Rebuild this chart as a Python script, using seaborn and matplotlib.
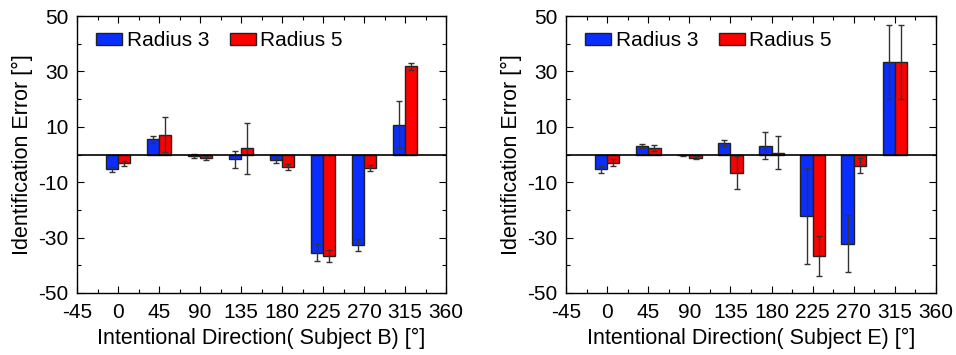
import numpy as np
import pandas as pd
import matplotlib
matplotlib.use("Agg")
import matplotlib.pyplot as plt
from matplotlib.ticker import MultipleLocator, FixedLocator
import seaborn as sns

directions = [0, 45, 90, 135, 180, 225, 270, 315]
radii = ["Radius 3", "Radius 5"]

# Subject B
b_r3 = [-5.4, 5.5, -0.6, -1.7, -1.9, -35.4, -32.7, 10.8]
b_r3_err = [0.8, 1.2, 0.8, 3.0, 1.0, 3.0, 2.1, 8.5]
b_r5 = [-3.2, 7.2, -1.2, 2.2, -4.4, -36.6, -4.8, 31.8]
b_r5_err = [0.8, 6.2, 0.7, 9.3, 1.1, 2.2, 1.0, 1.4]

# Subject E
e_r3 = [-5.4, 3.0, -0.3, 4.2, 3.1, -22.2, -32.2, 33.5]
e_r3_err = [1.2, 0.7, 0.3, 1.0, 4.9, 17.4, 10.2, 13.3]
e_r5 = [-3.0, 2.3, -1.1, -6.6, 0.7, -36.8, -4.1, 33.5]
e_r5_err = [1.2, 1.1, 0.5, 5.9, 5.9, 7.2, 2.7, 13.3]

x_ticks = [-45, 0, 45, 90, 135, 180, 225, 270, 315, 360]
y_ticks = [-50, -30, -10, 10, 30, 50]

colors = {"Radius 3": "#0A2EFF", "Radius 5": "#FF0000"}

sns.set_style("ticks")
plt.rcParams["font.family"] = ["Liberation Sans", "DejaVu Sans"]
plt.rcParams["text.color"] = "black"
plt.rcParams["axes.labelcolor"] = "black"
plt.rcParams["xtick.color"] = "black"
plt.rcParams["ytick.color"] = "black"

fig = plt.figure(figsize=(9.56, 3.55), dpi=100)
ax1 = fig.add_axes([77 / 956, 1 - 293 / 355, (446 - 77) / 956, (293 - 16) / 355])
ax2 = fig.add_axes([566 / 956, 1 - 293 / 355, (936 - 566) / 956, (293 - 16) / 355])


def panel(ax, r3, r3e, r5, r5e, subject):
    df = pd.DataFrame({
        "direction": directions * 2,
        "error": r3 + r5,
        "err": r3e + r5e,
        "radius": [radii[0]] * len(directions) + [radii[1]] * len(directions),
    })
    sns.barplot(data=df, x="direction", y="error", hue="radius", native_scale=True,
                width=0.6, palette=colors, saturation=1, edgecolor="#222222",
                linewidth=1.0, errorbar=None, ax=ax, hue_order=radii, zorder=2)
    patches = [p for p in ax.patches if p.get_width() > 0]
    n = len(directions)
    for i, p in enumerate(patches[: 2 * n]):
        row = df.iloc[i]
        cx = p.get_x() + p.get_width() / 2
        ax.errorbar(cx, row["error"], yerr=row["err"], fmt="none", ecolor="#333333",
                    elinewidth=1.0, capsize=2.5, capthick=1.0, zorder=3)
    ax.axhline(0, color="black", lw=1.2, zorder=4)
    ax.set_xlim(-45, 360)
    ax.set_ylim(-50, 50)
    ax.xaxis.set_major_locator(FixedLocator(x_ticks))
    ax.xaxis.set_minor_locator(MultipleLocator(22.5))
    ax.yaxis.set_major_locator(FixedLocator(y_ticks))
    ax.yaxis.set_minor_locator(MultipleLocator(10))
    ax.set_xticklabels([str(t) for t in x_ticks])
    ax.set_yticklabels([str(t) for t in y_ticks])
    ax.tick_params(which="both", direction="in", top=True, right=True,
                   labelsize=15, color="black", labelcolor="black")
    ax.tick_params(axis="y", pad=6)
    ax.tick_params(axis="x", pad=7.5)
    ax.tick_params(which="major", length=5, width=0.8)
    ax.tick_params(which="minor", length=3, width=0.8)
    for s in ax.spines.values():
        s.set_color("black")
        s.set_linewidth(1.0)
    ax.set_xlabel(f"Intentional Direction( {subject}) [°]", fontsize=15.5,
                  labelpad=4, color="black")
    ax.set_ylabel("Identification Error [°]", fontsize=15.5, labelpad=4, color="black")
    ax.legend(loc="upper left", ncol=2, frameon=False, fontsize=15,
              handlelength=1.25, handleheight=0.55, handletextpad=0.2,
              columnspacing=1.0, borderaxespad=0.0, bbox_to_anchor=(0.03, 0.975))


panel(ax1, b_r3, b_r3_err, b_r5, b_r5_err, "Subject B")
panel(ax2, e_r3, e_r3_err, e_r5, e_r5_err, "Subject E")

fig.savefig("out.png", dpi=100)
